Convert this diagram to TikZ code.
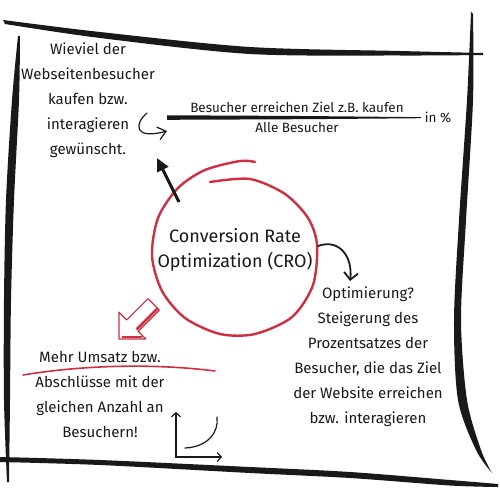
\documentclass[tikz,border=0pt]{standalone}
\usepackage{fontspec}
\setmainfont{Fira Sans}
\usetikzlibrary{arrows.meta}
\definecolor{crayon}{RGB}{204,48,66}
\definecolor{ink}{RGB}{25,25,25}
\begin{document}
\begin{tikzpicture}[x=1pt,y=-1pt,
  txt/.style={font=\fontsize{15}{25}\selectfont, align=center, inner sep=0pt, text=ink},
  small/.style={font=\fontsize{13.5}{16}\selectfont, inner sep=0pt, text=ink},
  big/.style={font=\fontsize{18}{25}\selectfont, align=center, inner sep=0pt, text=ink},
  brush/.style={fill=ink},
  pen/.style={draw=ink, line width=1.2pt, line cap=round},
  crayonline/.style={draw=crayon, line width=2.4pt, line cap=round},
]
\useasboundingbox (0,0) rectangle (500,500);
\fill[white] (0,0) rectangle (500,500);

% frame brush strokes
\fill[brush] plot[smooth] coordinates {(3,20) (100,32) (250,47) (400,51) (483,53)}
  -- plot[smooth] coordinates {(483,55) (400,55.5) (250,54) (100,38) (5,24)} -- cycle;
\fill[brush] plot[smooth] coordinates {(18,36) (12,100) (6,200) (4,300) (4,400) (7,482)}
  -- plot[smooth] coordinates {(9,482) (10,400) (11,300) (14,200) (19,100) (20,36)} -- cycle;
\fill[brush] plot[smooth] coordinates {(471,12) (467,100) (459,220) (454,320) (458,400) (476,450) (492,473)}
  -- plot[smooth] coordinates {(492,473) (481,450) (467,400) (461,320) (466,220) (473,100) (473,14)} -- cycle;
\fill[brush] plot[smooth] coordinates {(0,457) (100,460) (250,467) (350,472) (450,480) (498,484)}
  -- plot[smooth] coordinates {(498,487) (450,485.5) (350,478) (250,473) (100,465) (0,462)} -- cycle;

% texts
\node[txt] (q) at (88,100) {Wieviel der\\Webseitenbesucher\\kaufen bzw.\\interagieren\\gewünscht.};
\node[small] (num) at (297,107) {Besucher erreichen Ziel z.B. kaufen};
\node[small] (den) at (297,128) {Alle Besucher};
\node[small] (pct) at (438,117) {in \%};
\node[big] (cro) at (235,250) {Conversion Rate\\Optimization (CRO)};
\node[txt] (opt) at (368,357) {Optimierung?\\Steigerung des\\Prozentsatzes der\\Besucher, die das Ziel\\der Website erreichen\\bzw. interagieren};
\node[txt] (mehr) at (100,357) {Mehr Umsatz bzw.};
\node[txt] (abs) at (100,407) {Abschlüsse mit der\\gleichen Anzahl an\\Besuchern!};

% fraction line
\fill[brush] plot[smooth] coordinates {(167,115.3) (300,116) (421,117.2)}
  -- plot[smooth] coordinates {(421,118.2) (300,119.2) (167,119.8)} -- cycle;

% red circle
\draw[crayonline] plot[smooth] coordinates {(210,182) (250,179) (285,194) (308,218) (317,245) (313,285) (292,317) (255,334) (220,334) (185,318) (162,291) (152,256) (158,218) (178,188) (205,170) (240,161) (255,162)};

% connectors
\coordinate (a1) at (147,113);
\coordinate (a2) at (167,131);
\draw[pen, -{Straight Barb[length=8pt,width=13pt]}] (a1) .. controls (134,124) and (134,140) .. (a2);

\coordinate (b1) at (179,202);
\coordinate (b2) at (157,158);
\draw[draw=ink, line width=3pt, -{Triangle[length=13pt,width=12pt]}] (b1) -- (b2);

\coordinate (c1) at (318,246);
\coordinate (c2) at (350,281);
\draw[draw=ink, line width=1.8pt, line cap=round, -{Straight Barb[length=7pt,width=14pt]}] (c1) .. controls (340,238) and (353,258) .. (c2);

% red hollow arrow
\draw[draw=crayon, line width=1.2pt, line join=round]
  (119,339) -- (145.8,339) -- (138.1,331.3) -- (159.3,310.1) -- (147.9,298.7) -- (126.7,319.9) -- (119,312.2) -- cycle;
\draw[draw=crayon, line width=2.6pt] (136.6,329.4) -- (157.5,308.5);
\draw[draw=crayon, line width=2.4pt] (121.5,337) -- (141.5,337);

% red underline
\draw[draw=crayon, line width=1.6pt, line cap=round] (23,375) .. controls (90,364) and (160,364) .. (215,371);

% small graph
\coordinate (g1) at (176,412);
\coordinate (g0) at (176,457);
\coordinate (g2) at (222,457);
\draw[pen, {Straight Barb[length=4pt,width=9pt]}-{Straight Barb[length=4pt,width=9pt]}] (g1) -- (g0) -- (g2);
\coordinate (h1) at (185,448);
\coordinate (h2) at (217,417);
\draw[pen] (h1) .. controls (208,447) and (219,432) .. (h2);
\end{tikzpicture}
\end{document}
